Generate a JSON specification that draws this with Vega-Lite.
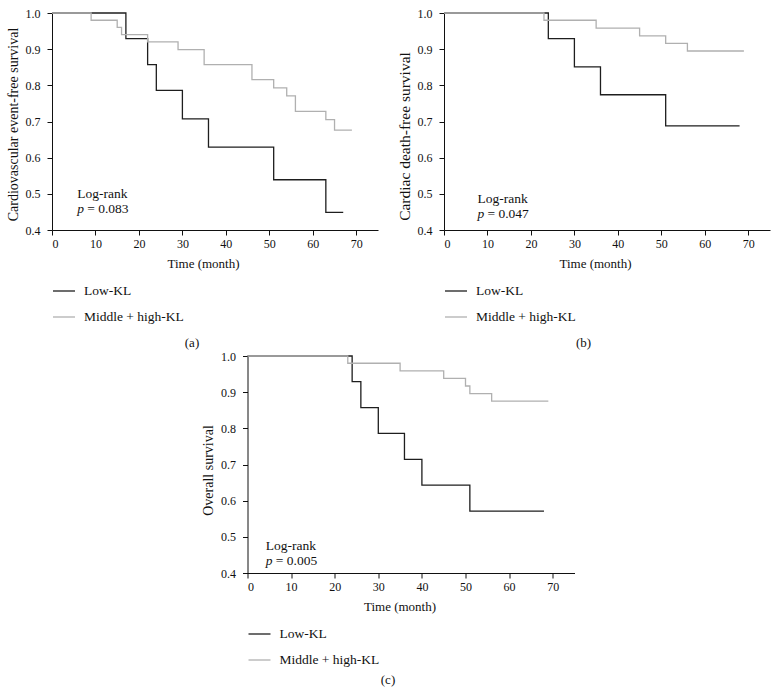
{
  "$schema": "https://vega.github.io/schema/vega-lite/v6.json",
  "background": "white",
  "padding": {"left": 6, "top": 7, "right": 5, "bottom": 0},
  "datasets": {
    "a": [
      {"group": "Low-KL", "t": 0, "s": 1},
      {"group": "Low-KL", "t": 17, "s": 0.929},
      {"group": "Low-KL", "t": 22, "s": 0.857},
      {"group": "Low-KL", "t": 24, "s": 0.786},
      {"group": "Low-KL", "t": 30, "s": 0.707},
      {"group": "Low-KL", "t": 36, "s": 0.629},
      {"group": "Low-KL", "t": 51, "s": 0.539},
      {"group": "Low-KL", "t": 63, "s": 0.449},
      {"group": "Low-KL", "t": 67, "s": 0.449},
      {"group": "Middle + high-KL", "t": 0, "s": 1},
      {"group": "Middle + high-KL", "t": 9, "s": 0.98},
      {"group": "Middle + high-KL", "t": 15, "s": 0.96},
      {"group": "Middle + high-KL", "t": 16, "s": 0.94},
      {"group": "Middle + high-KL", "t": 22, "s": 0.92},
      {"group": "Middle + high-KL", "t": 29, "s": 0.899},
      {"group": "Middle + high-KL", "t": 35, "s": 0.857},
      {"group": "Middle + high-KL", "t": 46, "s": 0.816},
      {"group": "Middle + high-KL", "t": 51, "s": 0.793},
      {"group": "Middle + high-KL", "t": 54, "s": 0.771},
      {"group": "Middle + high-KL", "t": 56, "s": 0.728},
      {"group": "Middle + high-KL", "t": 63, "s": 0.705},
      {"group": "Middle + high-KL", "t": 65, "s": 0.676},
      {"group": "Middle + high-KL", "t": 69, "s": 0.676}
    ],
    "b": [
      {"group": "Low-KL", "t": 0, "s": 1},
      {"group": "Low-KL", "t": 24, "s": 0.929},
      {"group": "Low-KL", "t": 30, "s": 0.851},
      {"group": "Low-KL", "t": 36, "s": 0.774},
      {"group": "Low-KL", "t": 51, "s": 0.688},
      {"group": "Low-KL", "t": 68, "s": 0.688},
      {"group": "Middle + high-KL", "t": 0, "s": 1},
      {"group": "Middle + high-KL", "t": 23, "s": 0.98},
      {"group": "Middle + high-KL", "t": 35, "s": 0.958},
      {"group": "Middle + high-KL", "t": 45, "s": 0.937},
      {"group": "Middle + high-KL", "t": 51, "s": 0.916},
      {"group": "Middle + high-KL", "t": 56, "s": 0.895},
      {"group": "Middle + high-KL", "t": 69, "s": 0.895}
    ],
    "c": [
      {"group": "Low-KL", "t": 0, "s": 1},
      {"group": "Low-KL", "t": 24, "s": 0.929},
      {"group": "Low-KL", "t": 26, "s": 0.857},
      {"group": "Low-KL", "t": 30, "s": 0.786},
      {"group": "Low-KL", "t": 36, "s": 0.714},
      {"group": "Low-KL", "t": 40, "s": 0.643},
      {"group": "Low-KL", "t": 51, "s": 0.571},
      {"group": "Low-KL", "t": 68, "s": 0.571},
      {"group": "Middle + high-KL", "t": 0, "s": 1},
      {"group": "Middle + high-KL", "t": 23, "s": 0.98},
      {"group": "Middle + high-KL", "t": 35, "s": 0.959},
      {"group": "Middle + high-KL", "t": 45, "s": 0.938},
      {"group": "Middle + high-KL", "t": 50, "s": 0.917},
      {"group": "Middle + high-KL", "t": 51, "s": 0.896},
      {"group": "Middle + high-KL", "t": 56, "s": 0.875},
      {"group": "Middle + high-KL", "t": 69, "s": 0.875}
    ],
    "ann_a": [{"x": 5.8, "y1": 0.5, "y2": 0.458, "pv": "= 0.083"}],
    "ann_b": [{"x": 7.7, "y1": 0.487, "y2": 0.445, "pv": "= 0.047"}],
    "ann_c": [{"x": 4.2, "y1": 0.474, "y2": 0.432, "pv": "= 0.005"}]
  },
  "vconcat": [
    {
      "hconcat": [
        {
          "width": 326, "height": 217,
          "title": {"text": "(a)", "orient": "bottom", "anchor": "middle", "frame": "bounds", "offset": 13},
          "layer": [
            {
              "data": {"name": "a"},
              "mark": {"type": "line", "interpolate": "step-after", "strokeWidth": 1.3},
              "encoding": {
                "x": {"field": "t", "type": "quantitative", "scale": {"domain": [0, 75], "nice": false}, "axis": {"title": "Time (month)", "values": [0,10,20,30,40,50,60,70], "tickCount": 20, "titleX": 151}},
                "y": {"field": "s", "type": "quantitative", "scale": {"domain": [0.4, 1], "nice": false, "zero": false}, "axis": {"title": "Cardiovascular event-free survival", "values": [0.4,0.5,0.6,0.7,0.8,0.9,1.0], "tickCount": 20, "format": ".1f", "titleY": 111, "titleFontSize": 14}},
                "color": {"field": "group", "type": "nominal", "scale": {"domain": ["Low-KL", "Middle + high-KL"], "range": ["#1e1e1e", "#b0b0b0"]}, "legend": {"title": null}}
              }
            },
            {
              "data": {"name": "ann_a"},
              "mark": {"type": "text", "text": "Log-rank", "align": "left", "baseline": "middle", "font": "Liberation Serif", "fontSize": 13.5, "color": "#111"},
              "encoding": {"x": {"field": "x", "type": "quantitative"}, "y": {"field": "y1", "type": "quantitative"}}
            },
            {
              "data": {"name": "ann_a"},
              "mark": {"type": "text", "text": "p", "align": "left", "baseline": "middle", "font": "Liberation Serif", "fontStyle": "italic", "fontSize": 13.5, "color": "#111"},
              "encoding": {"x": {"field": "x", "type": "quantitative"}, "y": {"field": "y2", "type": "quantitative"}}
            },
            {
              "data": {"name": "ann_a"},
              "mark": {"type": "text", "align": "left", "baseline": "middle", "dx": 10, "font": "Liberation Serif", "fontSize": 13.5, "color": "#111"},
              "encoding": {"x": {"field": "x", "type": "quantitative"}, "y": {"field": "y2", "type": "quantitative"}, "text": {"field": "pv"}}
            }
          ]
        },
        {
          "width": 326, "height": 217,
          "title": {"text": "(b)", "orient": "bottom", "anchor": "middle", "frame": "bounds", "offset": 13},
          "layer": [
            {
              "data": {"name": "b"},
              "mark": {"type": "line", "interpolate": "step-after", "strokeWidth": 1.3},
              "encoding": {
                "x": {"field": "t", "type": "quantitative", "scale": {"domain": [0, 75], "nice": false}, "axis": {"title": "Time (month)", "values": [0,10,20,30,40,50,60,70], "tickCount": 20, "titleX": 151}},
                "y": {"field": "s", "type": "quantitative", "scale": {"domain": [0.4, 1], "nice": false, "zero": false}, "axis": {"title": "Cardiac death-free survival", "values": [0.4,0.5,0.6,0.7,0.8,0.9,1.0], "tickCount": 20, "format": ".1f", "titleY": 123, "titleFontSize": 15.5}},
                "color": {"field": "group", "type": "nominal", "scale": {"domain": ["Low-KL", "Middle + high-KL"], "range": ["#1e1e1e", "#b0b0b0"]}, "legend": {"title": null}}
              }
            },
            {
              "data": {"name": "ann_b"},
              "mark": {"type": "text", "text": "Log-rank", "align": "left", "baseline": "middle", "font": "Liberation Serif", "fontSize": 13.5, "color": "#111"},
              "encoding": {"x": {"field": "x", "type": "quantitative"}, "y": {"field": "y1", "type": "quantitative"}}
            },
            {
              "data": {"name": "ann_b"},
              "mark": {"type": "text", "text": "p", "align": "left", "baseline": "middle", "font": "Liberation Serif", "fontStyle": "italic", "fontSize": 13.5, "color": "#111"},
              "encoding": {"x": {"field": "x", "type": "quantitative"}, "y": {"field": "y2", "type": "quantitative"}}
            },
            {
              "data": {"name": "ann_b"},
              "mark": {"type": "text", "align": "left", "baseline": "middle", "dx": 10, "font": "Liberation Serif", "fontSize": 13.5, "color": "#111"},
              "encoding": {"x": {"field": "x", "type": "quantitative"}, "y": {"field": "y2", "type": "quantitative"}, "text": {"field": "pv"}}
            }
          ]
        }
      ],
      "spacing": 19,
      "resolve": {"scale": {"color": "independent"}, "legend": {"color": "independent"}}
    },
    {
      "width": 327, "height": 217,
      "title": {"text": "(c)", "orient": "bottom", "anchor": "middle", "frame": "bounds", "offset": 7},
      "layer": [
        {
          "data": {"name": "c"},
          "mark": {"type": "line", "interpolate": "step-after", "strokeWidth": 1.3},
          "encoding": {
            "x": {"field": "t", "type": "quantitative", "scale": {"domain": [0, 75], "nice": false}, "axis": {"title": "Time (month)", "values": [0,10,20,30,40,50,60,70], "tickCount": 20, "titleX": 152}},
            "y": {"field": "s", "type": "quantitative", "scale": {"domain": [0.4, 1], "nice": false, "zero": false}, "axis": {"title": "Overall survival", "values": [0.4,0.5,0.6,0.7,0.8,0.9,1.0], "tickCount": 20, "format": ".1f", "titleY": 114, "titleFontSize": 14}},
            "color": {"field": "group", "type": "nominal", "scale": {"domain": ["Low-KL", "Middle + high-KL"], "range": ["#1e1e1e", "#b0b0b0"]}, "legend": {"title": null}}
          }
        },
        {
          "data": {"name": "ann_c"},
          "mark": {"type": "text", "text": "Log-rank", "align": "left", "baseline": "middle", "font": "Liberation Serif", "fontSize": 13.5, "color": "#111"},
          "encoding": {"x": {"field": "x", "type": "quantitative"}, "y": {"field": "y1", "type": "quantitative"}}
        },
        {
          "data": {"name": "ann_c"},
          "mark": {"type": "text", "text": "p", "align": "left", "baseline": "middle", "font": "Liberation Serif", "fontStyle": "italic", "fontSize": 13.5, "color": "#111"},
          "encoding": {"x": {"field": "x", "type": "quantitative"}, "y": {"field": "y2", "type": "quantitative"}}
        },
        {
          "data": {"name": "ann_c"},
          "mark": {"type": "text", "align": "left", "baseline": "middle", "dx": 10, "font": "Liberation Serif", "fontSize": 13.5, "color": "#111"},
          "encoding": {"x": {"field": "x", "type": "quantitative"}, "y": {"field": "y2", "type": "quantitative"}, "text": {"field": "pv"}}
        }
      ]
    }
  ],
  "spacing": 0,
  "center": true,
  "resolve": {"scale": {"color": "independent"}, "legend": {"color": "independent"}},
  "config": {
    "view": {"stroke": null},
    "axis": {
      "grid": false,
      "domainColor": "#111",
      "tickColor": "#111",
      "tickSize": 5,
      "labelColor": "#111",
      "titleColor": "#111",
      "labelFont": "Liberation Serif",
      "labelFontSize": 12,
      "titleFont": "Liberation Serif",
      "titleFontSize": 13,
      "titleFontWeight": "normal",
      "labelPadding": 3,
      "labelOverlap": false
    },
    "axisX": {"titlePadding": 8},
    "axisY": {"titlePadding": 5, "labelPadding": 7},
    "legend": {
      "orient": "bottom",
      "direction": "vertical",
      "symbolType": "stroke",
      "symbolSize": 484,
      "symbolStrokeWidth": 1.3,
      "labelFont": "Liberation Serif",
      "labelFontSize": 13.5,
      "labelColor": "#111",
      "labelOffset": 8,
      "rowPadding": 7,
      "offset": 9,
      "padding": 0
    },
    "title": {"font": "Liberation Serif", "fontSize": 13, "fontWeight": "normal", "color": "#111"}
  }
}
